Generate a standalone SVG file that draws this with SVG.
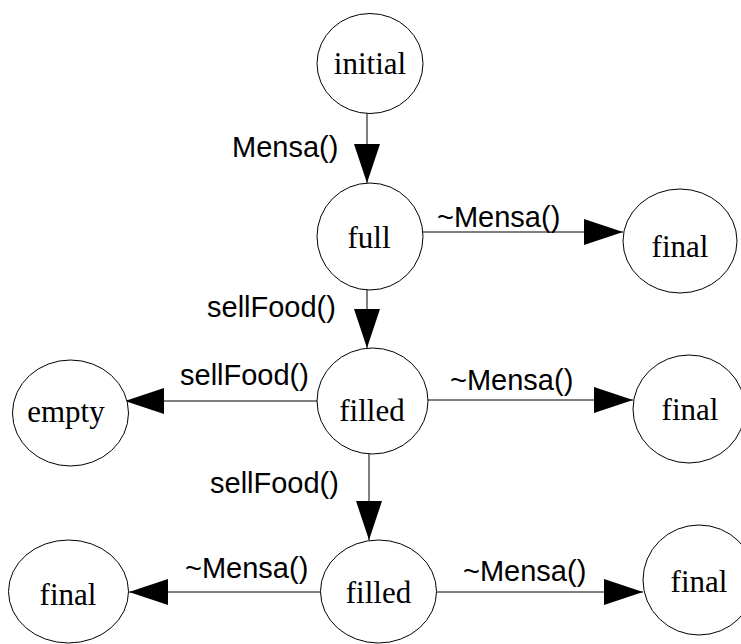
<svg xmlns="http://www.w3.org/2000/svg" width="741" height="644" viewBox="0 0 741 644">
<style>
.node ellipse{fill:#fff;stroke:#000;stroke-width:1}
.node text{font-family:"Liberation Serif","Times New Roman",serif;font-size:31px;text-anchor:middle;fill:#000}
.edge line{stroke:#000;stroke-width:1;marker-end:url(#arr)}
.lbl{font-family:"Liberation Sans",Arial,sans-serif;font-size:29px;fill:#000}
</style>
<defs>
<marker id="arr" viewBox="0 0 39 26" refX="39" refY="13" markerWidth="39" markerHeight="26" markerUnits="userSpaceOnUse" orient="auto">
<path d="M0,0 L39,13 L0,26 Z" fill="#000"/>
</marker>
</defs>
<rect width="741" height="644" fill="#fff"/>
<g id="connectors" class="edge">
<line x1="367" y1="113" x2="367" y2="183"/>
<line x1="422" y1="232" x2="623" y2="232"/>
<line x1="367" y1="290" x2="367" y2="348"/>
<line x1="317" y1="401" x2="125" y2="401"/>
<line x1="428" y1="400" x2="633" y2="400"/>
<line x1="369" y1="454" x2="369" y2="540"/>
<line x1="321" y1="592" x2="129" y2="592"/>
<line x1="437" y1="592" x2="643" y2="592"/>
</g>
<g id="labels">
<text class="lbl" x="232" y="157">Mensa()</text>
<text class="lbl" x="437" y="227">~Mensa()</text>
<text class="lbl" x="207" y="317">sellFood()</text>
<text class="lbl" x="180" y="385">sellFood()</text>
<text class="lbl" x="450" y="390">~Mensa()</text>
<text class="lbl" x="210" y="493">sellFood()</text>
<text class="lbl" x="185" y="578">~Mensa()</text>
<text class="lbl" x="463" y="581">~Mensa()</text>
</g>
<g id="initial" class="node"><ellipse cx="370" cy="63.5" rx="53" ry="50"/><text x="370" y="74">initial</text></g>
<g id="full" class="node"><ellipse cx="370" cy="236.5" rx="53" ry="53.5"/><text x="369" y="248">full</text></g>
<g id="final1" class="node"><ellipse cx="680" cy="241" rx="57" ry="52"/><text x="680" y="257">final</text></g>
<g id="filled1" class="node"><ellipse cx="372.5" cy="401" rx="55.5" ry="53"/><text x="372" y="421">filled</text></g>
<g id="empty" class="node"><ellipse cx="70.5" cy="413" rx="58" ry="53"/><text x="66" y="422">empty</text></g>
<g id="final2" class="node"><ellipse cx="689" cy="409" rx="56" ry="54"/><text x="690" y="420">final</text></g>
<g id="filled2" class="node"><ellipse cx="378.5" cy="591.5" rx="58" ry="51.5"/><text x="378.5" y="603">filled</text></g>
<g id="final3" class="node"><ellipse cx="68.5" cy="591.5" rx="60" ry="51.5"/><text x="68" y="605">final</text></g>
<g id="final4" class="node"><ellipse cx="699" cy="580" rx="56" ry="55"/><text x="699" y="592">final</text></g>
</svg>
